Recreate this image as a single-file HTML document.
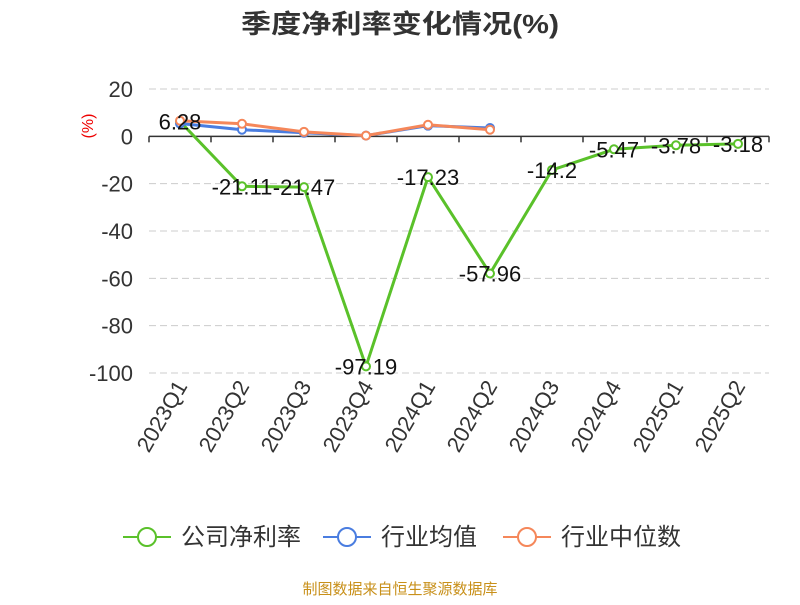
<!DOCTYPE html>
<html><head><meta charset="utf-8"><style>
body{margin:0;background:#fff;font-family:"Liberation Sans","Noto Sans CJK SC",sans-serif}
</style></head><body>
<svg id="c" width="800" height="600" xmlns="http://www.w3.org/2000/svg" font-family="Liberation Sans, Noto Sans CJK SC, sans-serif">
<text x="400" y="33" text-anchor="middle" font-size="26" font-weight="bold" fill="#333" textLength="318" lengthAdjust="spacingAndGlyphs">季度净利率变化情况(%)</text>
<text x="93" y="126" transform="rotate(-90 93 126)" text-anchor="middle" font-size="16" fill="#e00">(%)</text>
<text x="400" y="594" text-anchor="middle" font-size="15" fill="#c8901a">制图数据来自恒生聚源数据库</text>
</svg>
<script>
const categories=["2023Q1","2023Q2","2023Q3","2023Q4","2024Q1","2024Q2","2024Q3","2024Q4","2025Q1","2025Q2"];
const netMargin=[6.28,-21.11,-21.47,-97.19,-17.23,-57.96,-14.2,-5.47,-3.78,-3.18];
const industryAvg=[5.4,2.8,1.5,0.3,4.5,3.5];
const industryMedian=[6.6,5.3,1.9,0.3,4.9,2.8];
const yTicks=[20,0,-20,-40,-60,-80,-100];
const seriesNames=["公司净利率","行业均值","行业中位数"];
const svg=document.getElementById('c');const NS="http://www.w3.org/2000/svg";
const L=149,R=769,yTop=89,yBot=373;
const xs=i=>L+(R-L)/categories.length*(i+0.5);
const ys=v=>yTop+(20-v)/120*(yBot-yTop);
function mk(t,a,p){const e=document.createElementNS(NS,t);for(const k in a)e.setAttribute(k,a[k]);(p||svg).appendChild(e);return e;}
yTicks.forEach(v=>{
 if(v!==0){const g=mk('line',{x1:L,x2:R,y1:ys(v),y2:ys(v),stroke:'#ccc','stroke-dasharray':'7,4'});
 
 }
 const t=mk('text',{x:L-16,y:ys(v)+8,'text-anchor':'end','font-size':22,fill:'#333'});t.textContent=v;
 
 
});
const ax=mk('line',{x1:L,x2:R,y1:ys(0),y2:ys(0),stroke:'#333','stroke-width':1.5});


for(let i=0;i<=categories.length;i++){const x=L+(R-L)/categories.length*i;const tk=mk('line',{x1:x,x2:x,y1:ys(0),y2:ys(0)+6,stroke:'#333','stroke-width':1.5});

}
categories.forEach((c,i)=>{const x=xs(i)+8,y=386;const t=mk('text',{x:x,y:y,'text-anchor':'end','font-size':22,fill:'#333',transform:`rotate(-60 ${x} ${y})`});t.textContent=c;

});
function series(arr,color,name,w){
 const pts=arr.map((v,i)=>xs(i)+','+ys(v)).join(' ');
 const pl=mk('polyline',{points:pts,fill:'none',stroke:color,'stroke-width':w});
 
 
 arr.forEach((v,i)=>{const c=mk('circle',{cx:xs(i),cy:ys(v),r:4,fill:'#fff',stroke:color,'stroke-width':2});
 
 });
}
series(netMargin,'#5ac12a','net-margin',3);
series(industryAvg,'#4a7de0','industry-avg',3);
series(industryMedian,'#f5875a','industry-median',3);
netMargin.forEach((v,i)=>{const t=mk('text',{x:xs(i),y:ys(v)+8,'text-anchor':'middle','font-size':22,fill:'#111'});t.textContent=v;

});
const colors=['#5ac12a','#4a7de0','#f5875a'];const lx=[123,323,503];
seriesNames.forEach((n,i)=>{const g=mk('g',{});


mk('line',{x1:lx[i],x2:lx[i]+48,y1:537,y2:537,stroke:colors[i],'stroke-width':2},g);
mk('circle',{cx:lx[i]+24,cy:537,r:9,fill:'#fff',stroke:colors[i],'stroke-width':2},g);
const t=mk('text',{x:lx[i]+58,y:545,'font-size':24,fill:'#333'},g);t.textContent=n;});
</script>
</body></html>
